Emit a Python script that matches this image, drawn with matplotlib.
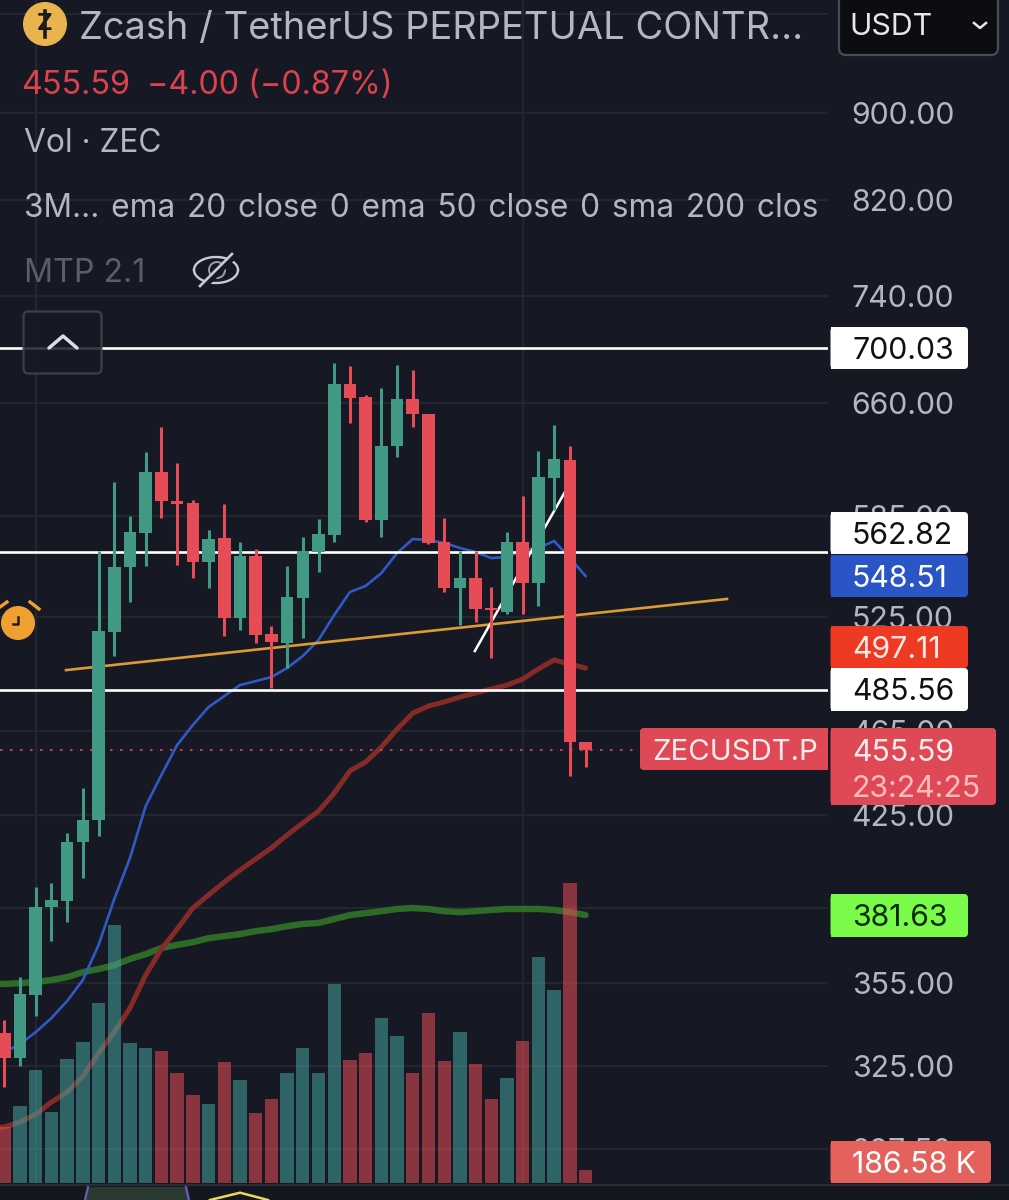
import numpy as np
import matplotlib
matplotlib.use("Agg")
import matplotlib.pyplot as plt
from matplotlib.patches import FancyBboxPatch, Rectangle, Circle, Polygon
from matplotlib.transforms import Bbox

plt.rcParams["font.family"] = ["Inter", "DejaVu Sans"]

# candles, oldest first
opens = [336.7, 327.8, 350.6, 385.2, 387.7, 412.9, 422.7, 516.8, 554.0, 574.5, 613.2, 594.5, 593.2, 557.0, 571.4, 524.6, 560.5, 515.7, 510.8, 535.9, 562.9, 573.3, 673.7, 664.4, 582.5, 630.5, 663.0, 652.4, 569.0, 541.7, 547.5, 530.2, 528.0, 569.0, 544.6, 609.3, 621.1, 459.5]
highs = [341.4, 357.4, 393.5, 395.2, 416.9, 437.4, 563.5, 606.7, 585.0, 626.4, 643.4, 619.1, 595.1, 576.3, 592.6, 569.0, 564.8, 520.1, 554.6, 572.0, 583.2, 689.0, 686.8, 665.8, 670.8, 687.5, 683.8, 652.4, 583.8, 563.5, 563.5, 542.3, 575.1, 597.7, 627.1, 644.8, 630.5, 459.5]
lows = [317.8, 325.0, 342.8, 371.4, 379.1, 397.3, 415.6, 503.7, 533.6, 554.6, 583.8, 555.2, 547.5, 541.7, 514.6, 517.9, 510.8, 486.8, 497.3, 513.5, 551.0, 569.0, 646.2, 581.3, 572.0, 623.1, 643.4, 567.8, 539.4, 520.7, 522.4, 502.6, 526.8, 526.8, 531.4, 588.8, 443.1, 447.4]
closes = [327.8, 351.0, 385.2, 388.1, 412.9, 422.7, 517.4, 554.0, 575.1, 613.2, 594.5, 592.6, 557.0, 570.8, 524.6, 560.5, 515.2, 511.3, 536.5, 563.5, 573.9, 673.7, 663.7, 582.5, 630.5, 663.0, 652.4, 568.4, 541.7, 547.5, 529.7, 529.1, 569.0, 544.6, 609.9, 621.8, 459.5, 455.59]
volumes = [823, 1131, 1660, 1043, 1822, 2071, 2644, 3790, 2057, 1983, 1939, 1616, 1293, 1161, 1777, 1513, 1028, 1234, 1616, 1983, 1616, 2923, 1807, 1910, 2424, 2159, 1616, 2497, 1792, 2218, 1748, 1234, 1542, 2086, 3320, 2835, 4407, 187]

ema20 = [329.9, 332.7, 337.0, 342.1, 348.4, 356.3, 369.9, 388.5, 405.9, 429.1, 443.6, 458.0, 467.9, 477.0, 482.6, 488.3, 490.4, 492.5, 497.3, 503.7, 512.4, 526.3, 539.4, 542.9, 550.4, 562.3, 570.8, 570.2, 568.4, 565.4, 562.9, 559.3, 559.9, 564.1, 565.4, 569.6, 559.3, 548.7]
# these two start one bar earlier than the candles
ema50 = [304.2, 304.5, 306.1, 308.7, 312.7, 316.1, 321.5, 329.5, 337.0, 345.8, 358.2, 368.3, 376.2, 384.8, 390.2, 395.6, 400.7, 405.5, 410.3, 416.0, 421.4, 426.8, 435.1, 445.5, 449.8, 457.0, 465.9, 473.9, 477.5, 479.6, 482.1, 484.2, 486.3, 488.3, 491.5, 496.8, 501.6, 499.4, 497.3]
sma200 = [354.8, 354.8, 355.1, 355.5, 356.3, 357.4, 359.3, 360.5, 362.0, 364.4, 366.3, 368.7, 369.9, 371.0, 372.6, 373.4, 374.2, 375.4, 376.2, 377.4, 378.3, 378.7, 380.3, 381.9, 382.7, 383.5, 384.4, 384.8, 384.4, 383.5, 383.1, 383.5, 384.0, 384.4, 384.4, 384.4, 384.0, 383.1, 381.9]

levels = [700.03, 562.82, 485.56]
last_price = 455.59
trend_x, trend_y = [3.93, 46.0], [496.2, 535.4]
slash_x, slash_y = [29.95, 35.68], [506.4, 600.2]

price_ticks = [1000, 900, 820, 740, 660, 585, 525, 465, 425, 385, 355, 325, 297.5]
grid_bars = [2, 33]

BG = "#161824"
GREEN = "#429a85"
RED = "#e54c56"
TXT = "#b4b7c3"
FS = 21.8

fig = plt.figure(figsize=(10.09, 12), dpi=100, facecolor=BG)
ax = fig.add_axes([0, 15 / 1200, 828 / 1009, 1185 / 1200], facecolor=BG)
ax.set_yscale("log")
ax.set_ylim(286.2, 1015.5)
ax.set_xlim(-0.274, 52.43)
for s in ax.spines.values():
    s.set_visible(False)

bars = np.arange(len(opens))
ma_bars = np.arange(-1, len(opens))
colors = [GREEN if c >= o else RED for o, c in zip(opens, closes)]

ax.plot(ma_bars, sma200, color="#2f6b28", lw=4.6, solid_capstyle="round", zorder=2)
ax.plot(ma_bars, ema50, color="#842b27", lw=3.6, solid_capstyle="round", zorder=2)
ax.plot(bars, ema20, color="#2f5ac4", lw=1.9, zorder=2)
for lv in levels:
    ax.axhline(lv, color="white", lw=1.9, zorder=2.1)
ax.plot([-0.274, 40.4], [last_price, last_price], color="#b04656", lw=1.5,
        ls=(0, (1.2, 3.6)), zorder=2)
ax.plot(trend_x, trend_y, color="#dd9c33", lw=1.9, zorder=2.2)
ax.plot(slash_x, slash_y, color="white", lw=1.8, zorder=2.2)

ax.vlines(bars, lows, highs, colors=colors, lw=2.2, zorder=3)
ax.bar(bars, np.array(closes) - np.array(opens), bottom=opens, width=0.8,
       color=colors, zorder=3.1)

vax = ax.twinx()
vax.set_ylim(-29, 17378)
vax.set_yticks([])
for s in vax.spines.values():
    s.set_visible(False)
vol_colors = ["#43a09c" if c == GREEN else RED for c in colors]
vax.bar(bars, volumes, width=0.85, color=vol_colors, alpha=0.56)

# twinx moves the price ticks to the left, so set them up after it
ax.yaxis.tick_right()
ax.set_yticks(price_ticks)
ax.set_yticklabels(["%.2f" % p for p in price_ticks])
ax.minorticks_off()
ax.tick_params(axis="y", which="both", length=0, pad=17, labelsize=FS, labelcolor=TXT)
ax.set_xticks(grid_bars)
ax.tick_params(axis="x", length=0, labelbottom=False)
ax.grid(True, color="#23262f", lw=1.6)
ax.set_axisbelow(True)

# everything below is the app's chrome, placed in screen pixels
ov = fig.add_axes([0, 0, 1, 1])
ov.set_xlim(0, 1009)
ov.set_ylim(1200, 0)
ov.axis("off")


def tag(y0, y1, color, text, tcolor, x1=968, x0=830.5):
    ov.add_patch(FancyBboxPatch((x0, y0), x1 - x0, y1 - y0, boxstyle="round,pad=0,rounding_size=4",
                                fc=color, ec="none"))
    ov.add_patch(Rectangle((x0, y0), 20, y1 - y0, fc=color, ec="none"))
    ov.text(852, (y0 + y1) / 2, text, color=tcolor, fontsize=FS, va="center_baseline")


tag(327, 369, "white", "700.03", "#111111")
tag(512, 554, "white", "562.82", "#111111")
tag(555, 597, "#2a55c6", "548.51", "#ffffff")
tag(626, 668, "#ee3a23", "497.11", "#ffe9e4")
tag(668, 711, "white", "485.56", "#111111")
tag(894, 937, "#7bfb49", "381.63", "#0b2b0b")
tag(1141, 1183, "#e5625c", "186.58 K", "#ffffff", x1=991)
ov.add_patch(Rectangle((0, 1185), 1009, 15, fc="#14161f", ec="none"))
ov.plot([0, 1009], [1185, 1185], color="#2b2e39", lw=1.5)

tag(728, 805, "#df4955", "", "white", x1=996)
ov.text(852, 750, "455.59", color="#ffecec", fontsize=FS, va="center_baseline")
ov.text(852, 786, "23:24:25", color="#ffbcc0", fontsize=FS, va="center_baseline")
ov.add_patch(FancyBboxPatch((640, 728), 188, 42, boxstyle="round,pad=0,rounding_size=4", fc="#df4955", ec="none"))
ov.add_patch(Rectangle((810, 728), 18, 42, fc="#df4955", ec="none"))
ov.text(652, 750, "ZECUSDT.P", color="#ffecec", fontsize=21.2, va="center_baseline")

# header
ov.add_patch(Circle((45, 24), 22, fc="#e9b450", ec="none"))
ov.text(45, 24, "Z", color="#1c1a1a", fontsize=17, fontweight="bold", ha="center", va="center")
ov.plot([45, 45], [11, 37], color="#1c1a1a", lw=2.6)
ov.text(79, 25, "Zcash / TetherUS PERPETUAL CONTR...", color=TXT, fontsize=27.4, va="center_baseline")
ov.text(21, 82, "455.59", color="#d9434e", fontsize=23.3, va="center_baseline")
ov.text(147, 82, "\u22124.00 (\u22120.87%)", color="#d9434e", fontsize=23.3, va="center_baseline")
ov.text(24, 140, "Vol \u00b7 ZEC", color=TXT, fontsize=22.8, va="center_baseline")
ind = ov.text(24, 205, "3M... \u200aema \u200a20 \u200aclose \u200a0 \u200aema \u200a50 \u200aclose \u200a0 \u200asma \u200a200 \u200aclose \u200a0",
              color=TXT, fontsize=22.8, va="center_baseline")
ind.set_clip_box(Bbox([[0, 0], [819, 1200]]))
ind.set_clip_on(True)
ov.text(24, 270, "MTP 2.1", color="#5b5e68", fontsize=23.2, va="center_baseline")

# eye icon with a slash
eye_t = np.linspace(0, np.pi, 30)
eye_x = 216 + 22 * np.cos(eye_t)
ov.plot(eye_x, 270 - 13 * np.sin(eye_t), color="#c9ccd3", lw=1.7)
ov.plot(eye_x, 270 + 13 * np.sin(eye_t), color="#c9ccd3", lw=1.7)
ov.add_patch(Circle((217, 270), 8, fc="none", ec="#9a9da6", lw=1.4))
ov.plot([203, 235], [288, 256], color=BG, lw=3.6)
ov.plot([200, 232], [286, 254], color="#c9ccd3", lw=1.9)

# collapse button
ov.add_patch(FancyBboxPatch((23.5, 311.5), 78, 62, boxstyle="round,pad=0,rounding_size=5",
                            fc=BG, ec="#44474f", lw=1.6, alpha=0.85))
ov.plot([49, 63, 77], [348, 336, 348], color="#dcdee3", lw=2.5, solid_capstyle="round")

# currency box
ov.add_patch(FancyBboxPatch((839, -8), 159, 63, boxstyle="round,pad=0,rounding_size=7",
                            fc="#0c0d10", ec="#4a4c54", lw=1.6))
ov.text(849, 24, "USDT", color="#e6e7ea", fontsize=FS, va="center_baseline")
ov.plot([974, 980, 986], [23, 28, 23], color="#e6e7ea", lw=1.8)

# alarm
ov.add_patch(Circle((18, 623), 17, fc="#f0a030", ec="none"))
ov.plot([0, 7], [607, 602], color="#f0a030", lw=2.4)
ov.plot([30, 39], [602, 609], color="#f0a030", lw=2.4)
ov.plot([18, 18, 13], [617, 624, 624], color="#2a1c10", lw=1.8)

# strip of the next pane
ov.add_patch(Polygon([(88, 1187), (186, 1187), (189, 1200), (85, 1200)], fc="#2b3a31", ec="none"))
ov.plot([88, 85], [1187, 1200], color="#6b5bb5", lw=1.6)
ov.plot([186, 189], [1187, 1200], color="#6b5bb5", lw=1.6)
ov.plot([210, 240, 268], [1200, 1192.7, 1200], color="#e9d65a", lw=1.8)

fig.savefig("out.png", dpi=100, facecolor=BG)
